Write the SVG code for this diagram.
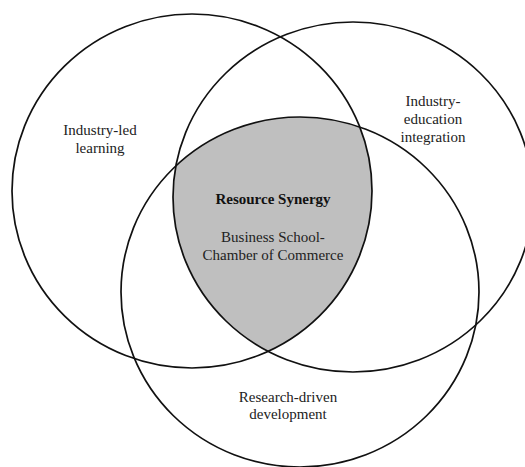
<svg xmlns="http://www.w3.org/2000/svg" width="525" height="467" viewBox="0 0 525 467">
  <style>
    .ring { fill: none; stroke: #111; stroke-width: 1.7; }
    text { font-family: 'Liberation Serif', 'Times New Roman', serif; font-size: 15px; fill: #222; text-anchor: middle; }
    .bold { font-weight: bold; fill: #111; }
  </style>
  <defs>
    <clipPath id="clip-left">
      <ellipse cx="192" cy="191" rx="180" ry="177"/>
    </clipPath>
    <clipPath id="clip-bottom">
      <ellipse cx="300" cy="292" rx="179" ry="175"/>
    </clipPath>
  </defs>
  <rect width="525" height="467" fill="#fff"/>

  <!-- shared core: overlap of all three sets -->
  <g id="core" clip-path="url(#clip-left)">
    <g clip-path="url(#clip-bottom)">
      <ellipse cx="353" cy="197" rx="180" ry="175" fill="#bfbfbf"/>
    </g>
  </g>

  <g id="industry-led">
    <ellipse class="ring" cx="192" cy="191" rx="180" ry="177"/>
    <text x="100" y="135">Industry-led</text>
    <text x="100" y="153">learning</text>
  </g>

  <g id="industry-education">
    <ellipse class="ring" cx="353" cy="197" rx="180" ry="175"/>
    <text x="433" y="106">Industry-</text>
    <text x="433" y="124">education</text>
    <text x="433" y="142">integration</text>
  </g>

  <g id="research-driven">
    <ellipse class="ring" cx="300" cy="292" rx="179" ry="175"/>
    <text x="288" y="402">Research-driven</text>
    <text x="288" y="419">development</text>
  </g>

  <g id="synergy">
    <text class="bold" x="273" y="204">Resource Synergy</text>
    <text x="273" y="242">Business School-</text>
    <text x="273" y="260">Chamber of Commerce</text>
  </g>
</svg>
